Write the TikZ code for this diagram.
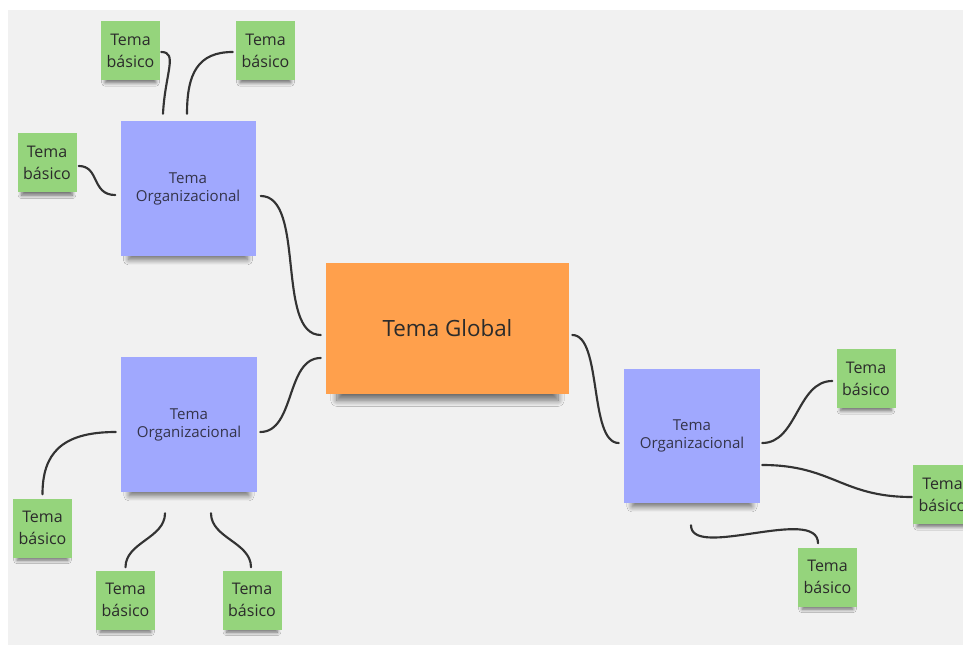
\documentclass[tikz,border=0pt]{standalone}
\usepackage{fontspec}
\setmainfont{Open Sans}
\usetikzlibrary{calc,shadows.blur}
\definecolor{bg}{HTML}{F1F1F1}
\definecolor{stickgreen}{HTML}{95D47C}
\definecolor{stickblue}{HTML}{A0A8FE}
\definecolor{stickorange}{HTML}{FFA04C}
\definecolor{ink}{HTML}{2B2B2B}
\definecolor{inkblue}{HTML}{34344A}
\definecolor{wire}{HTML}{333333}
\begin{document}
\begin{tikzpicture}[x=0.75pt,y=-0.75pt,
  note/.style={rectangle, inner sep=0pt, align=center},
  basic/.style={note, fill=stickgreen, minimum width=44.25pt, minimum height=44.25pt, text=ink, font=\fontsize{12}{16.5}\selectfont,
    blur shadow={shadow xshift=0pt, shadow yshift=-6pt, shadow scale=0.86, shadow opacity=55, shadow blur radius=3pt, shadow blur steps=8}},
  org/.style={note, fill=stickblue, minimum width=101.25pt, minimum height=101.25pt, text=inkblue, font=\fontsize{11.3}{13.5}\selectfont,
    blur shadow={shadow xshift=0pt, shadow yshift=-10pt, shadow scale=0.88, shadow opacity=55, shadow blur radius=4.5pt, shadow blur steps=10}},
  global/.style={note, fill=stickorange, minimum width=182.25pt, minimum height=98.25pt, text=ink, font=\fontsize{16.8}{20}\selectfont,
    blur shadow={shadow xshift=0pt, shadow yshift=-10pt, shadow scale=0.91, shadow opacity=55, shadow blur radius=5pt, shadow blur steps=10}},
  link/.style={draw=wire, line width=1.6pt, line cap=round}
]
\useasboundingbox (0,0) rectangle (963,648);
\fill[white] (0,0) rectangle (963,648);
\clip (0,0) rectangle (963,648);
\fill[bg] (8,10) rectangle (963,645);

% main nodes
\node[global] (gl) at (447.5,328.5) {Tema Global};
\node[org] (tl) at (188,188.5) {Tema\\Organizacional};
\node[org, minimum width=102pt] (bl) at (189,424.5) {Tema\\Organizacional};
\node[org, minimum width=102pt, minimum height=100.5pt] (ro) at (692,436) {Tema\\Organizacional};

% basic topics
\node[basic] (g1) at (130.5,50.5) {Tema\\básico};
\node[basic] (g2) at (265.5,50.5) {Tema\\básico};
\node[basic] (g3) at (47,163) {Tema\\básico};
\node[basic] (g4) at (42.5,528) {Tema\\básico};
\node[basic] (g5) at (125.5,600) {Tema\\básico};
\node[basic] (g6) at (252,600) {Tema\\básico};
\node[basic] (g7) at (866,378.5) {Tema\\básico};
\node[basic] (g8) at (942.5,494.5) {Tema\\básico};
\node[basic] (g9) at (827.5,577) {Tema\\básico};

% connectors
\draw[link] ($(g3.east)+(2,3)$) .. controls +(21,0) and +(-24,0) .. ($(tl.west)+(-5,6.5)$);
\draw[link] ($(g1.east)+(1,1.5)$) .. controls +(17,0) and +(2,-40) .. ($(tl.north)+(-25,-7)$);
\draw[link] ($(g2.west)+(-3,1.5)$) .. controls +(-35,0) and +(0,-40) .. ($(tl.north)+(-1,-7)$);
\draw[link] ($(tl.east)+(5,7.5)$) .. controls +(45,0) and +(-45,0) .. ($(gl.west)+(-5,6.5)$);
\draw[link] ($(bl.east)+(3,7.5)$) .. controls +(35,0) and +(-35,0) .. ($(gl.west)+(-5,29.5)$);
\draw[link] ($(bl.west)+(-5,7.5)$) .. controls +(-55,0) and +(0,-40) .. ($(g4.north)+(0,-4)$);
\draw[link] ($(bl.south)+(-24,21)$) .. controls +(0,25) and +(0,-25) .. ($(g5.north)+(0,-3)$);
\draw[link] ($(bl.south)+(22,21)$) .. controls +(0,25) and +(0,-25) .. ($(g6.north)+(-1,-3)$);
\draw[link] ($(gl.east)+(3,6.5)$) .. controls +(30,0) and +(-30,0) .. ($(ro.west)+(-5,7)$);
\draw[link] ($(ro.east)+(2,7)$) .. controls +(35,0) and +(-35,0) .. ($(g7.west)+(-4,2.5)$);
\draw[link] ($(ro.east)+(2,29)$) .. controls +(70,0) and +(-70,0) .. ($(g8.west)+(-1,2.5)$);
\draw[link] ($(ro.south)+(-1,22)$) .. controls +(0,35) and +(0,-38) .. ($(g9.north)+(-9.5,-4)$);
\end{tikzpicture}
\end{document}
